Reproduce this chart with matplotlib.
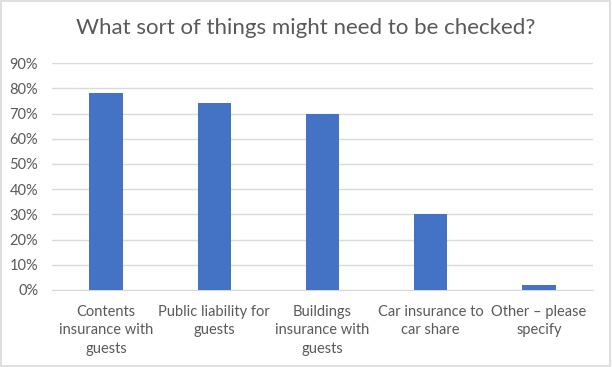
import numpy as np
import matplotlib
matplotlib.use("Agg")
from matplotlib import pyplot as plt
from matplotlib.patches import Rectangle
from matplotlib.ticker import PercentFormatter

categories = ["Contents\ninsurance with\nguests", "Public liability for\nguests",
              "Buildings\ninsurance with\nguests", "Car insurance to\ncar share",
              "Other \u2013 please\nspecify"]
values = [78, 74, 70, 30, 2]
yticks = list(range(0, 91, 10))

plt.rcParams['font.family'] = ['Lato', 'DejaVu Sans']
grey = '#595959'

fig = plt.figure(figsize=(6.12, 3.67), dpi=100)
ax = fig.add_axes([0.085, 0.21, 0.884, 0.618])

x = np.arange(len(categories))
ax.bar(x, values, width=0.31, color='#4472C4', zorder=3)

ax.set_xlim(-0.5, len(categories) - 0.5)
ax.set_ylim(0, 90)
ax.set_yticks(yticks)
ax.yaxis.set_major_formatter(PercentFormatter(decimals=0))
ax.set_xticks(x)
ax.set_xticklabels(categories, linespacing=1.38)
ax.tick_params(axis='both', length=0, labelsize=10.5, colors=grey)
ax.tick_params(axis='x', pad=11)
ax.tick_params(axis='y', pad=10)
ax.grid(axis='y', color='#D9D9D9', linewidth=1, zorder=0)
for s in ['top', 'right', 'left']:
    ax.spines[s].set_visible(False)
ax.spines['bottom'].set_color('#D9D9D9')

fig.text(0.5, 0.925, "What sort of things might need to be checked?",
         ha='center', va='center', fontsize=16, color=grey)

fig.patches.append(Rectangle((0.002, 0.003), 0.995, 0.993, transform=fig.transFigure,
                             fill=False, edgecolor='#D9D9D9', linewidth=1.2))

fig.savefig('out.png', dpi=100)
